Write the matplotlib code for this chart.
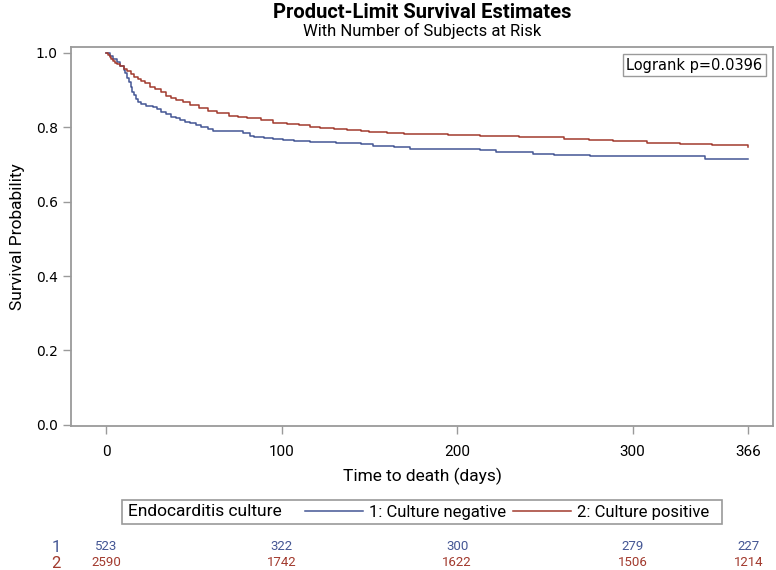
import matplotlib
matplotlib.use('Agg')
import matplotlib.pyplot as plt
from matplotlib import font_manager
from matplotlib.patches import Rectangle
from matplotlib.lines import Line2D
from matplotlib.transforms import blended_transform_factory

# km curve, culture negative (group 1)
neg_time = [0, 2, 4, 6, 8, 10, 11, 12, 13, 14, 15, 16, 17, 18, 20, 23, 27, 29, 31, 34,
            37, 40, 42, 45, 48, 51, 54, 58, 61, 78, 82, 84, 90, 95, 101, 107, 116, 124, 131, 145,
            152, 164, 173, 201, 213, 222, 243, 255, 276, 341, 366]
neg_surv = [1.000, 0.992, 0.984, 0.975, 0.965, 0.954, 0.945, 0.932, 0.921, 0.909,
            0.896, 0.886, 0.876, 0.867, 0.862, 0.858, 0.856, 0.850, 0.842, 0.836,
            0.829, 0.824, 0.820, 0.815, 0.811, 0.806, 0.802, 0.796, 0.790, 0.784,
            0.777, 0.773, 0.770, 0.768, 0.766, 0.764, 0.761, 0.760, 0.759, 0.756,
            0.750, 0.748, 0.743, 0.741, 0.738, 0.735, 0.728, 0.726, 0.723, 0.716, 0.716]

# km curve, culture positive (group 2)
pos_time = [0, 1, 2, 3, 4, 5, 6, 8, 10, 12, 14, 16, 18, 20, 22, 25, 28, 31, 34, 37,
            40, 44, 48, 53, 58, 63, 70, 75, 80, 88, 95, 103, 110, 116, 122, 130, 137, 145, 150, 160,
            170, 179, 195, 213, 235, 261, 275, 289, 308, 327, 345, 366]
pos_surv = [1.000, 0.994, 0.988, 0.983, 0.978, 0.974, 0.970, 0.966, 0.958, 0.951,
            0.943, 0.936, 0.930, 0.924, 0.918, 0.909, 0.902, 0.895, 0.885, 0.879,
            0.873, 0.867, 0.861, 0.851, 0.845, 0.838, 0.831, 0.828, 0.824, 0.819,
            0.813, 0.809, 0.806, 0.802, 0.797, 0.795, 0.793, 0.790, 0.787, 0.785,
            0.783, 0.782, 0.780, 0.777, 0.774, 0.769, 0.766, 0.763, 0.759, 0.755,
            0.752, 0.748]

risk_times = [0, 100, 200, 300, 366]
risk_neg = [523, 322, 300, 279, 227]
risk_pos = [2590, 1742, 1622, 1506, 1214]
yticks = [0.0, 0.2, 0.4, 0.6, 0.8, 1.0]

labels = ['1: Culture negative', '2: Culture positive']
blue = '#445694'
red = '#A23A2E'
frame_col = '#9a9a9a'

names = set(f.name for f in font_manager.fontManager.ttflist)
narrow = 'Liberation Sans Narrow' if 'Liberation Sans Narrow' in names else 'Roboto'
nfam = [narrow, 'DejaVu Sans']

fig = plt.figure(figsize=(7.76, 5.70), dpi=100)
ax = fig.add_axes([71/776, 1-426/570, 702/776, 379/570])

ax.plot(neg_time, neg_surv, drawstyle='steps-post', color=blue, lw=1.1)
ax.plot(pos_time, pos_surv, drawstyle='steps-post', color=red, lw=1.1)

ax.set_xlim(-20, 380)
ax.set_ylim(-0.003, 1.016)
ax.set_xticks(risk_times)
ax.set_yticks(yticks)
ax.set_yticklabels(['%.1f' % v for v in yticks], fontsize=10)
ax.set_xticklabels([str(t) for t in risk_times], family=nfam, fontsize=11)
ax.tick_params(axis='both', colors=frame_col, labelcolor='black', length=6, width=1)
ax.tick_params(axis='x', pad=8)
for s in ax.spines.values():
    s.set_color(frame_col)
    s.set_linewidth(1.3)

ax.set_ylabel('Survival Probability', family=nfam, fontsize=12.5, labelpad=8)
ax.set_xlabel('Time to death (days)', family=nfam, fontsize=12.5, labelpad=6)

# titles
cx = (71 + 773) / 2 / 776
fig.text(cx, 1-12/570, 'Product-Limit Survival Estimates', ha='center', va='center',
         family=nfam, fontsize=14.5, fontweight='bold')
fig.text(cx, 1-31/570, 'With Number of Subjects at Risk', ha='center', va='center',
         family=nfam, fontsize=12)

# logrank box
ax.text(0.985, 0.952, 'Logrank p=0.0396', transform=ax.transAxes, ha='right', va='center',
        fontsize=10.5, bbox=dict(boxstyle='square,pad=0.25', fc='white', ec=frame_col, lw=1))

# legend box below
fig.patches.append(Rectangle((122/776, 1-524/570), 600/776, 24/570, transform=fig.transFigure,
                             fill=False, ec=frame_col, lw=1.2))
fig.text(128/776, 1-512/570, 'Endocarditis culture', ha='left', va='center',
         family=nfam, fontsize=12.5)
handles = [Line2D([], [], color=blue, lw=1.1), Line2D([], [], color=red, lw=1.1)]
fig.legend(handles, labels, loc='center left', bbox_to_anchor=(305/776, 1-512/570),
           ncol=2, frameon=False, borderpad=0, borderaxespad=0, handlelength=3.5,
           handletextpad=0.35, columnspacing=0.4, prop={'family': nfam, 'size': 12})

# numbers at risk
tr = blended_transform_factory(ax.transData, fig.transFigure)
fig.text(56/776, 1-547/570, '1', color=blue, ha='center', va='center', family=nfam, fontsize=12)
fig.text(56/776, 1-563/570, '2', color=red, ha='center', va='center', family=nfam, fontsize=12)
for t, a, b in zip(risk_times, risk_neg, risk_pos):
    ax.text(t, 1-547/570, str(a), transform=tr, color=blue, ha='center', va='center',
            family=nfam, fontsize=9.5)
    ax.text(t, 1-563/570, str(b), transform=tr, color=red, ha='center', va='center',
            family=nfam, fontsize=9.5)

fig.savefig('out.png', dpi=100)
